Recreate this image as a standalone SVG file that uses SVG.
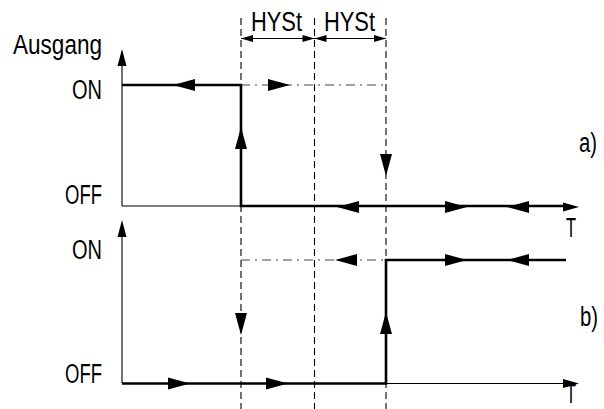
<svg xmlns="http://www.w3.org/2000/svg" width="604" height="409" viewBox="0 0 604 409">
<style>
text{font-family:"Liberation Sans Narrow","Liberation Sans",Arial,sans-serif;font-size:27px;fill:#000}
.thin{stroke:#000;stroke-width:1.1;fill:none}
.thick{stroke:#000;stroke-width:2.6;fill:none}
.dash{stroke:#000;stroke-width:1.1;stroke-dasharray:7,4;fill:none}
.dd{stroke:#444;stroke-width:1.2;stroke-dasharray:9,5,2,5;fill:none}
.ah{fill:#000}
</style>
<g id="labels">
<text x="102" y="54" text-anchor="end" textLength="89" lengthAdjust="spacingAndGlyphs">Ausgang</text>
<text x="102" y="99" text-anchor="end" textLength="30" lengthAdjust="spacingAndGlyphs">ON</text>
<text x="102" y="204" text-anchor="end" textLength="37" lengthAdjust="spacingAndGlyphs">OFF</text>
<text x="102" y="259" text-anchor="end" textLength="30" lengthAdjust="spacingAndGlyphs">ON</text>
<text x="102" y="383" text-anchor="end" textLength="37" lengthAdjust="spacingAndGlyphs">OFF</text>
<text x="251" y="31" textLength="51" lengthAdjust="spacingAndGlyphs">HYSt</text>
<text x="324" y="31" textLength="51" lengthAdjust="spacingAndGlyphs">HYSt</text>
<text x="566" y="237" textLength="10" lengthAdjust="spacingAndGlyphs">T</text>
<text x="566" y="403" textLength="10" lengthAdjust="spacingAndGlyphs">T</text>
<text x="579" y="152" textLength="18" lengthAdjust="spacingAndGlyphs">a)</text>
<text x="580" y="326" textLength="18" lengthAdjust="spacingAndGlyphs">b)</text>
</g>
<g id="connectors">
<line class="dash" x1="241" y1="18" x2="241" y2="409"/>
<line class="dash" x1="314.5" y1="18" x2="314.5" y2="409"/>
<line class="dash" x1="386" y1="18" x2="386" y2="409"/>
<line class="thin" x1="241" y1="38.5" x2="386" y2="38.5"/>
<path class="ah" d="M241,38.5 l12,-3.5 v7 z M314.5,38.5 l-12,-3.5 v7 z M314.5,38.5 l12,-3.5 v7 z M386,38.5 l-12,-3.5 v7 z"/>
<path class="thin" d="M122,206 V52 M122,206 H241"/>
<path class="ah" d="M122,49 l-4.5,17 h9 z"/>
<path class="thick" d="M122,85 H241 V206 H566"/>
<line class="dd" x1="241" y1="85" x2="386" y2="85"/>
<path class="ah" d="M173,85 l22,-6 v12 z M241,127 l-6,22 h12 z M290,85 l-22,-6 v12 z M386,176 l-6,-22 h12 z M337,207 l22,-6 v12 z M467,207 l-22,-6 v12 z M507,207 l22,-6 v12 z M579,207 l-16,-4.5 v9 z"/>
<path class="thin" d="M122,383 V224 M386,383.5 H570"/>
<path class="ah" d="M122,220 l-4.5,17 h9 z M579,383.5 l-16,-4.5 v9 z"/>
<path class="thick" d="M122,383.5 H386 V260 H566"/>
<line class="dd" x1="241" y1="260" x2="386" y2="260"/>
<path class="ah" d="M241,335 l-6,-22 h12 z M190,383.5 l-22,-6 v12 z M288,383.5 l-22,-6 v12 z M386,312 l-6,22 h12 z M335,260 l22,-6 v12 z M467,260 l-22,-6 v12 z M507,260 l22,-6 v12 z"/>
</g>
</svg>
